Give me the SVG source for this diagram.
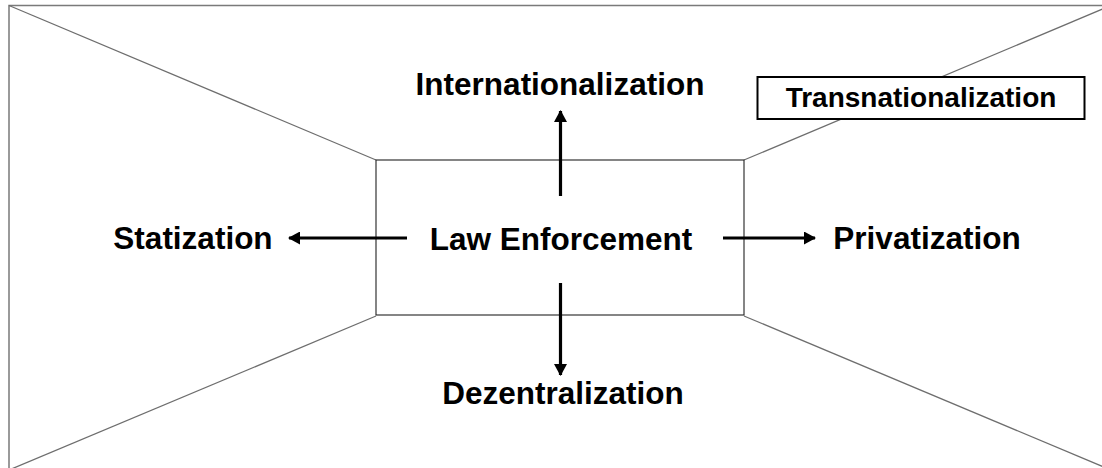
<svg xmlns="http://www.w3.org/2000/svg" width="1102" height="468" viewBox="0 0 1102 468">
<style>
.frame{fill:none;stroke:#7a7a7a;stroke-width:1.5}
.diag{fill:none;stroke:#6e6e6e;stroke-width:1.3}
.inner{fill:none;stroke:#222;stroke-width:1.1}
.lbl{font-family:"Liberation Sans",Arial,sans-serif;font-weight:bold;font-size:31.5px;fill:#000;text-anchor:middle}
.small{font-size:28px}
.arrow{fill:none;stroke:#000;stroke-width:3.2}
</style>
<defs>
<marker id="ah" markerUnits="userSpaceOnUse" markerWidth="12" markerHeight="13" refX="11" refY="6.5" orient="auto">
<polygon points="0,0 12,6.5 0,13" fill="#000"/>
</marker>
</defs>
<rect width="1102" height="468" fill="#fff"/>
<g id="room">
<rect class="frame" x="9" y="5.5" width="1102" height="465"/>
<line class="diag" x1="9" y1="5.5" x2="376" y2="160"/>
<line class="diag" x1="1111" y1="5.5" x2="744" y2="160"/>
<line class="diag" x1="9" y1="470" x2="376" y2="316"/>
<line class="diag" x1="1111" y1="470" x2="744" y2="316"/>
<rect class="inner" x="376" y="160" width="368" height="155"/>
</g>
<g id="connectors">
<line class="arrow" x1="560.5" y1="196" x2="560.5" y2="111" marker-end="url(#ah)"/>
<line class="arrow" x1="407" y1="238" x2="289" y2="238" marker-end="url(#ah)"/>
<line class="arrow" x1="723" y1="238" x2="815" y2="238" marker-end="url(#ah)"/>
<line class="arrow" x1="560.5" y1="283" x2="560.5" y2="375" marker-end="url(#ah)"/>
</g>
<g id="law-enforcement"><text class="lbl" x="561" y="250">Law Enforcement</text></g>
<g id="internationalization"><text class="lbl" x="560" y="95">Internationalization</text></g>
<g id="statization"><text class="lbl" x="193" y="249">Statization</text></g>
<g id="privatization"><text class="lbl" x="927" y="249">Privatization</text></g>
<g id="dezentralization"><text class="lbl" x="563" y="404">Dezentralization</text></g>
<g id="transnationalization">
<rect x="757.5" y="77" width="327" height="42" fill="#fff" stroke="#000" stroke-width="2"/>
<text class="lbl small" x="921" y="107">Transnationalization</text>
</g>
</svg>
